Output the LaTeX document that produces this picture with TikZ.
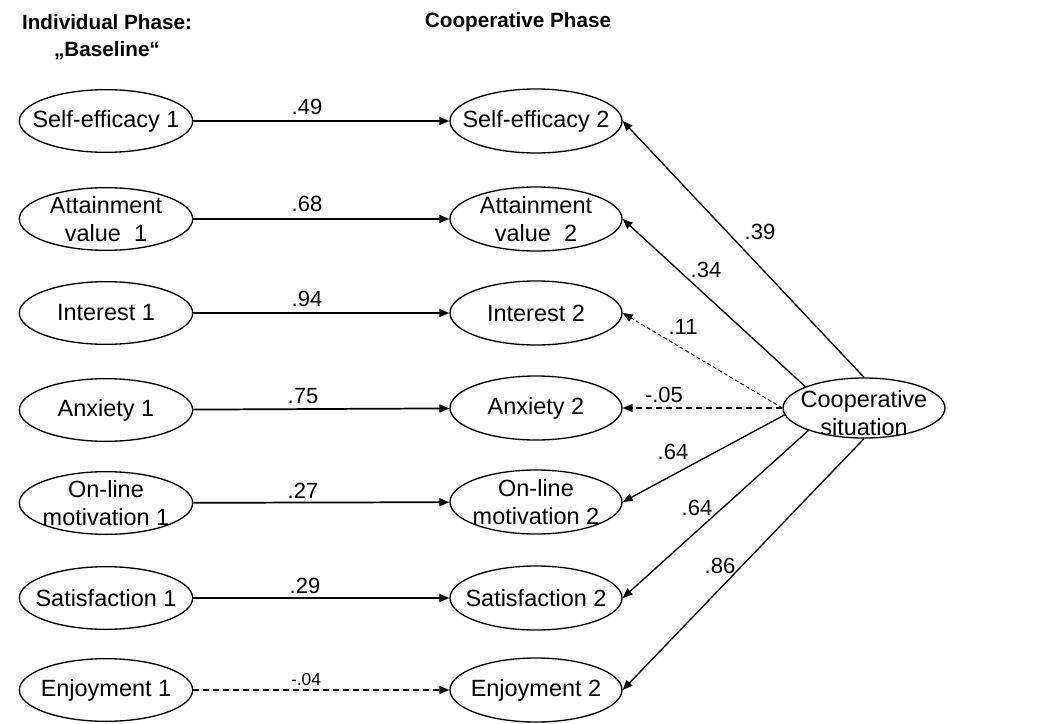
\documentclass[tikz,border=0pt]{standalone}
\usepackage{fontspec}
\setmainfont{Liberation Sans}
\usetikzlibrary{shapes.geometric,arrows.meta}
\tikzset{
  ellL/.style={draw,line width=1pt,ellipse,minimum width=130pt,minimum height=47pt,inner sep=0pt},
  ellR/.style={draw,line width=1pt,ellipse,minimum width=129pt,minimum height=48pt,inner sep=0pt},
  ellC/.style={draw,line width=1pt,ellipse,minimum width=121.5pt,minimum height=45pt,inner sep=0pt},
  txt/.style={font=\fontsize{17.6}{21.5}\selectfont,align=center,inner sep=0pt},
  hdr/.style={font=\fontsize{15.5}{20}\selectfont\bfseries,align=center,inner sep=0pt},
  lbl/.style={font=\fontsize{16.5}{20}\selectfont,inner sep=0pt},
  slbl/.style={font=\fontsize{13}{16}\selectfont,inner sep=0pt},
  arr/.style={line width=1.3pt,-{Triangle[length=7.5pt,width=6pt]}},
  carr/.style={line width=1pt,-{Triangle[length=7.5pt,width=6pt]}},
  darr/.style={line width=1.2pt,dash pattern=on 4.5pt off 3pt,-{Triangle[length=7.5pt,width=6pt]}},
  tdarr/.style={line width=0.7pt,dash pattern=on 3pt off 1.8pt,-{Triangle[length=7.5pt,width=6pt]}},
}
\begin{document}
\begin{tikzpicture}[x=0.75pt,y=-0.75pt]
\useasboundingbox (0,0) rectangle (1042,724);
% headers
\node[hdr] (h1) at (107,37) {Individual Phase:\\„Baseline“};
\node[hdr,anchor=base] (h2) at (518,28) {Cooperative Phase};
% left column
\node[ellL] (a1) at (106,121) {};
\node[ellL] (b1) at (106,219) {};
\node[ellL] (c1) at (106,313) {};
\node[ellL] (d1) at (106,410) {};
\node[ellL] (e1) at (106,503) {};
\node[ellL] (f1) at (106,598) {};
\node[ellL] (g1) at (106,690) {};
\node[txt] at (a1) {Self-efficacy 1};
\node[txt] at (b1) {Attainment\\value\ \ 1};
\node[txt] at (c1) {Interest 1};
\node[txt] at (d1) {Anxiety 1};
\node[txt] at (e1) {On-line\\motivation 1};
\node[txt] at (f1) {Satisfaction 1};
\node[txt] at (g1) {Enjoyment 1};
% right column
\node[ellR] (a2) at (536,121) {};
\node[ellR] (b2) at (536,219) {};
\node[ellR] (c2) at (536,313) {};
\node[ellR] (d2) at (536,408) {};
\node[ellR] (e2) at (536,502) {};
\node[ellR] (f2) at (536,598) {};
\node[ellR] (g2) at (536,690) {};
\node[txt] at (a2) {Self-efficacy 2};
\node[txt] at (b2) {Attainment\\value\ \ 2};
\node[txt] at (c2) {Interest 2};
\node[txt] at (d2) {Anxiety 2};
\node[txt] at (e2) {On-line\\motivation 2};
\node[txt] at (f2) {Satisfaction 2};
\node[txt] at (g2) {Enjoyment 2};
% cooperative situation
\node[ellC] (cs) at (864,408) {};
\node[txt] at (864,413) {Cooperative\\situation};
% horizontal paths
\draw[arr] (a1) -- (a2);
\draw[arr] (b1) -- (b2);
\draw[arr] (c1) -- (c2);
\draw[arr] (d1) -- (d2);
\draw[arr] (e1) -- (e2);
\draw[arr] (f1) -- (f2);
\draw[darr] (g1) -- (g2);
\node[lbl] at (307,107) {.49};
\node[lbl] at (307,204) {.68};
\node[lbl] at (307,299) {.94};
\node[lbl] at (303,396) {.75};
\node[lbl] at (303,491) {.27};
\node[lbl] at (305,586) {.29};
\node[slbl] at (306,680) {-.04};
% from cooperative situation
\draw[carr] (cs.90) -- (a2.east);
\draw[carr] (cs.160) -- (b2.east);
\draw[tdarr] (cs.180) -- (c2.east);
\draw[darr] (cs.180) -- (d2.east);
\draw[carr] (cs.185) -- (e2.east);
\draw[carr] (cs.202) -- (f2.east);
\draw[carr] (cs.270) -- (g2.east);
\node[lbl] at (760,232) {.39};
\node[lbl] at (706,270) {.34};
\node[lbl] at (683,327) {.11};
\node[lbl] at (664,395) {-.05};
\node[lbl] at (673,452) {.64};
\node[lbl] at (697,508) {.64};
\node[lbl] at (720,566) {.86};
\end{tikzpicture}
\end{document}
